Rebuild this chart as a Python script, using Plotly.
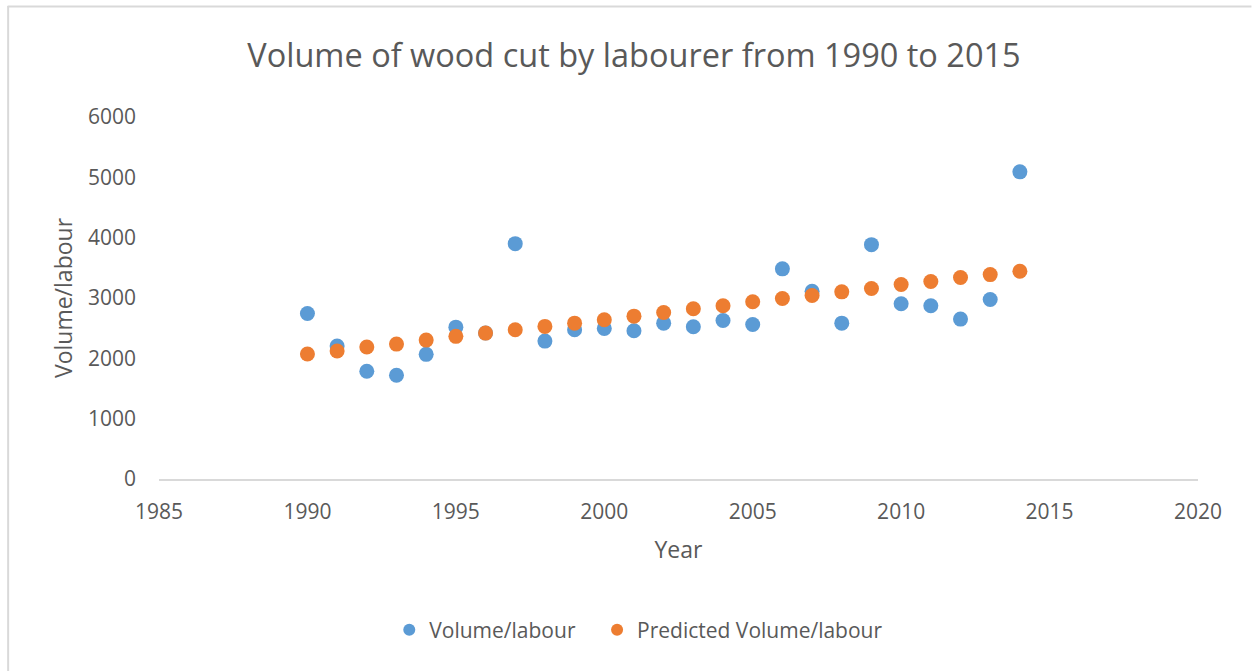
import plotly.graph_objects as go

years = list(range(1990, 2015))
volume = [2744, 2203, 1785, 1719, 2066, 2517, 2420, 3901, 2286, 2474, 2496, 2458, 2583,
          2524, 2628, 2562, 3483, 3112, 2583, 3884, 2904, 2871, 2650, 2975, 5091]
predicted = [2071, 2121, 2187, 2236, 2302, 2364, 2418, 2474, 2529, 2583, 2640, 2699, 2760,
             2821, 2871, 2937, 2992, 3041, 3102, 3157, 3223, 3273, 3339, 3388, 3443]

x_ticks = [1985, 1990, 1995, 2000, 2005, 2010, 2015, 2020]
y_ticks = [0, 1000, 2000, 3000, 4000, 5000, 6000]

BLUE = "#5B9BD5"
ORANGE = "#ED7D31"
TEXT = "#595959"
FONT = "Open Sans"

fig = go.Figure()
fig.add_trace(go.Scatter(x=years, y=volume, mode="markers", name="Volume/labour",
                         marker=dict(color=BLUE, size=15, line=dict(width=0)),
                         legend="legend"))
fig.add_trace(go.Scatter(x=years, y=predicted, mode="markers", name="Predicted Volume/labour",
                         marker=dict(color=ORANGE, size=15, line=dict(width=0)),
                         legend="legend2"))

W, H = 1252, 671
L, R, T, B = 158.5, W - 1198.5, 117, H - 479
pw, ph = W - L - R, H - T - B

def px(x):
    return (x - L) / pw

def py(y):
    return (H - B - y) / ph

leg_common = dict(orientation="h", xanchor="left", y=py(630), yanchor="middle",
                  font=dict(size=21, color=TEXT), itemsizing="constant", itemwidth=30,
                  bgcolor="rgba(0,0,0,0)")

fig.update_layout(
    width=W, height=H,
    margin=dict(l=L, r=R, t=T, b=B, autoexpand=False),
    paper_bgcolor="white", plot_bgcolor="white",
    font=dict(family=FONT, color=TEXT, size=21),
    title=dict(text="Volume of wood cut by labourer from 1990 to 2015",
               x=634 / W, xref="container", y=1 - 56 / H, yref="container",
               yanchor="middle", xanchor="center",
               font=dict(family=FONT, size=32.5, color=TEXT)),
    xaxis=dict(range=[1985, 2020], tickvals=x_ticks, showgrid=False, zeroline=False,
               showline=True, linecolor="#D9D9D9", linewidth=1.5, ticks="",
               ticklabelstandoff=13,
               title=dict(text="Year", font=dict(size=23, color=TEXT), standoff=18)),
    yaxis=dict(range=[0, 6000], tickvals=y_ticks, showgrid=False, zeroline=False,
               showline=False, ticks="", ticklabelstandoff=22,
               title=dict(text="Volume/labour", font=dict(size=23, color=TEXT), standoff=8)),
    legend=dict(x=px(389), **leg_common),
    legend2=dict(x=px(597), **leg_common),
    showlegend=True,
    shapes=[
        dict(type="line", xref="paper", yref="paper", x0=px(7), x1=px(W), y0=py(6.5), y1=py(6.5),
             line=dict(color="#D9D9D9", width=2)),
        dict(type="line", xref="paper", yref="paper", x0=px(7.5), x1=px(7.5), y0=py(6), y1=py(H),
             line=dict(color="#D9D9D9", width=2)),
    ],
)

fig.write_html("out.html", config={"displayModeBar": False},
               post_script="document.body.style.margin='0';document.body.style.overflow='hidden';")
